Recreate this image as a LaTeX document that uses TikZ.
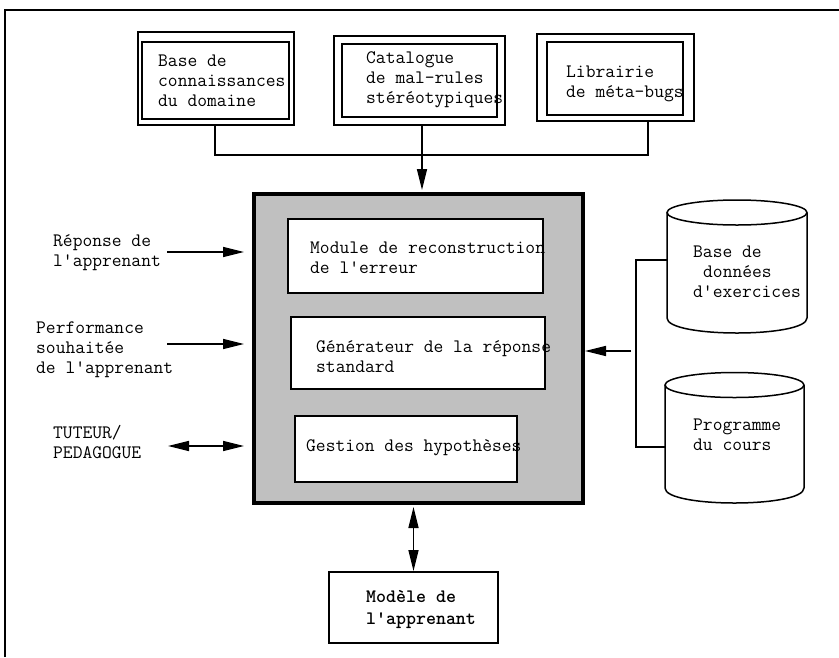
\documentclass[tikz,border=0pt]{standalone}
\usepackage{fontspec}
\usetikzlibrary{arrows.meta}
\definecolor{hatchbg}{RGB}{192,192,192}
\begin{document}
\begin{tikzpicture}[x=1pt,y=-1pt,
  txt/.style={font=\ttfamily\fontsize{19}{20}\selectfont, align=left, inner sep=0pt, anchor=west},
  boldtxt/.style={txt, font=\ttfamily\bfseries\fontsize{19}{22}\selectfont},
  dbox/.style={draw, line width=2.2pt, inner sep=0pt},
  ibox/.style={draw, fill=white, line width=2pt, inner sep=0pt},
  mainbox/.style={draw, line width=4pt, inner sep=0pt, fill=hatchbg},
  conn/.style={line width=1.5pt},
  arr/.style={line width=1.5pt, -{Triangle[length=21pt,width=10pt]}},
  darr/.style={line width=1.5pt, {Triangle[length=21pt,width=10pt]}-{Triangle[length=21pt,width=10pt]}},
  cylline/.style={line width=1.5pt}
]
\useasboundingbox (0,0) rectangle (839,657);
% outer frame (top and left only)
\draw[line width=2pt] (5,657) -- (5,10) -- (839,10);

% top double boxes
\node[dbox, minimum width=156pt, minimum height=93pt] (b1o) at (216,78.5) {};
\node[dbox, minimum width=147pt, minimum height=77pt] (b1i) at (215.5,80.5) {};
\node[dbox, minimum width=171pt, minimum height=89pt] (b2o) at (419.5,80.5) {};
\node[dbox, minimum width=155pt, minimum height=73pt] (b2i) at (419.5,80.5) {};
\node[dbox, minimum width=157pt, minimum height=87pt] (b3o) at (615.5,77.5) {};
\node[dbox, minimum width=136pt, minimum height=73pt] (b3i) at (615,78.5) {};
\node[txt] (t1) at (158,81) {Base de\\connaissances\\du domaine};
\node[txt] (t2) at (366,80) {Catalogue\\de mal-rules\\stéréotypiques};
\node[txt] (t3) at (566,84) {Librairie\\de méta-bugs};

% main box
\node[mainbox, minimum width=329pt, minimum height=309pt] (main) at (418.5,348.5) {};
\node[ibox, minimum width=255pt, minimum height=74pt] (mod) at (415.5,256) {};
\node[ibox, minimum width=254pt, minimum height=72pt] (gen) at (418,353) {};
\node[ibox, minimum width=222pt, minimum height=66pt] (ges) at (406,449) {};
\node[txt] (tmod) at (310,258) {Module de reconstruction\\de l'erreur};
\node[txt] (tgen) at (316,357) {Générateur de la réponse\\standard};
\node[txt] (tges) at (306,448) {Gestion des hypothèses};

% connectors from top boxes
\coordinate (j1) at (215,155);
\coordinate (j2) at (648,155);
\draw[conn] (b1o.south -| j1) -- (j1) -- (j2) -- (b3o.south -| j2);
\draw[arr, shorten >=2pt] (b2o.south -| 422,0) -- (main.north -| 422,0);

% left labels and arrows
\node[txt] (l1) at (53,253) {Réponse de\\l'apprenant};
\node[txt] (l2) at (36,350) {Performance\\souhaitée\\de l'apprenant};
\node[txt] (l3) at (53,442) {TUTEUR/\\PEDAGOGUE};
\coordinate (a1) at (167,252);
\coordinate (a2) at (167,344);
\coordinate (a3) at (168,446);
\draw[arr, shorten >=8pt] (a1) -- (a1 -| main.west);
\draw[arr, shorten >=8pt] (a2) -- (a2 -| main.west);
\draw[darr, shorten >=8pt] (a3) -- (a3 -| main.west);

% cylinders
\node[inner sep=0pt, minimum width=140pt, minimum height=133pt] (cyl1) at (737,266.5) {};
\draw[cylline] (737,212.5) ellipse [x radius=70pt, y radius=12.5pt];
\draw[cylline] (667,212.5) -- (667,318) .. controls (667,338) and (807,338) .. (807,318) -- (807,212.5);
\node[txt] (tc1) at (693,272) {Base de\\\hspace*{10pt}données\\d'exercices};

\node[inner sep=0pt, minimum width=139pt, minimum height=131pt] (cyl2) at (734.5,437.5) {};
\draw[cylline] (734.5,385) ellipse [x radius=69.5pt, y radius=12.5pt];
\draw[cylline] (665,385) -- (665,488) .. controls (665,508) and (804,508) .. (804,488) -- (804,385);
\node[txt] (tc2) at (693,435) {Programme\\du cours};

% bracket and arrow into main box
\coordinate (jt) at (636,260);
\coordinate (jb) at (636,447);
\coordinate (ja) at (631,351);
\draw[conn] (cyl1.west |- jt) -- (jt) -- (jb) -- (cyl2.west |- jb);
\draw[arr] (ja) -- (ja -| main.east);

% student model
\node[dbox, line width=2pt, minimum width=169pt, minimum height=71pt] (model) at (413.5,607.5) {};
\node[boldtxt] (tmodel) at (366,610) {Modèle de\\l'apprenant};
\draw[darr, shorten <=2pt] (main.south -| model.north) -- (model.north);
\end{tikzpicture}
\end{document}
